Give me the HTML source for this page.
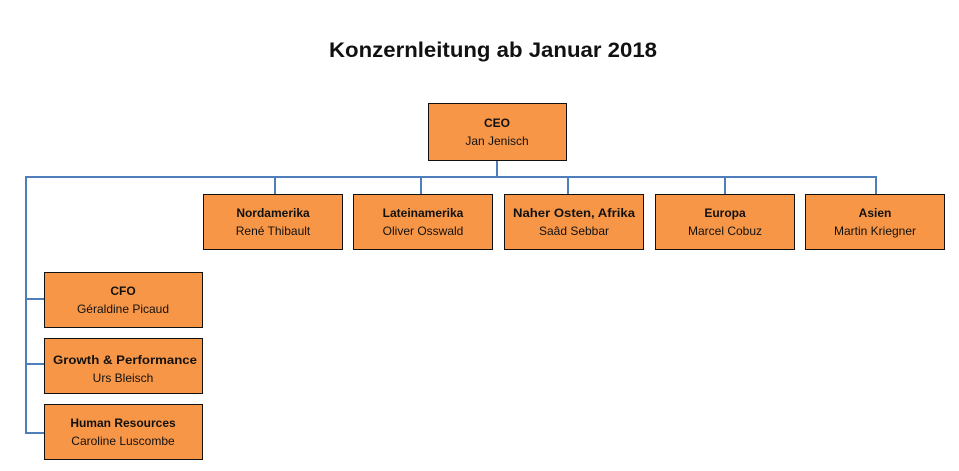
<!DOCTYPE html>
<html><head><meta charset="utf-8"><style>
html,body{margin:0;padding:0;background:#fff;}
svg{display:block;}
text{font-family:"Liberation Sans",sans-serif;font-size:12px;fill:#111;text-anchor:middle;}
.b{font-weight:bold;}
</style></head><body>
<svg width="959" height="471" viewBox="0 0 959 471" xmlns="http://www.w3.org/2000/svg">
<text x="493" y="57" class="b" style="font-size:21px" textLength="328" lengthAdjust="spacingAndGlyphs">Konzernleitung ab Januar 2018</text>
<g stroke="#4F7FBB" stroke-width="2" fill="none">
<line x1="497" y1="160" x2="497" y2="178"/>
<line x1="26" y1="177" x2="877" y2="177"/>
<line x1="26" y1="176" x2="26" y2="434"/>
<line x1="275" y1="177" x2="275" y2="194"/>
<line x1="421" y1="177" x2="421" y2="194"/>
<line x1="568" y1="177" x2="568" y2="194"/>
<line x1="725" y1="177" x2="725" y2="194"/>
<line x1="876" y1="177" x2="876" y2="194"/>
<line x1="26" y1="299" x2="44" y2="299"/>
<line x1="26" y1="364" x2="44" y2="364"/>
<line x1="26" y1="433" x2="44" y2="433"/>
</g>
<g fill="#F79646" stroke="#111" stroke-width="1">
<rect x="428.5" y="103.5" width="138" height="57"/>
<rect x="203.5" y="194.5" width="139" height="55"/>
<rect x="353.5" y="194.5" width="139" height="55"/>
<rect x="504.5" y="194.5" width="139" height="55"/>
<rect x="655.5" y="194.5" width="139" height="55"/>
<rect x="805.5" y="194.5" width="139" height="55"/>
<rect x="44.5" y="272.5" width="158" height="55"/>
<rect x="44.5" y="338.5" width="158" height="55"/>
<rect x="44.5" y="404.5" width="158" height="55"/>
</g>
<text x="497" y="127" class="b">CEO</text><text x="497" y="145">Jan Jenisch</text>
<text x="273" y="217" class="b">Nordamerika</text><text x="273" y="235">René Thibault</text>
<text x="423" y="217" class="b">Lateinamerika</text><text x="423" y="235">Oliver Osswald</text>
<text x="574" y="217" class="b" textLength="122" lengthAdjust="spacingAndGlyphs">Naher Osten, Afrika</text><text x="574" y="235">Saâd Sebbar</text>
<text x="725" y="217" class="b">Europa</text><text x="725" y="235">Marcel Cobuz</text>
<text x="875" y="217" class="b">Asien</text><text x="875" y="235">Martin Kriegner</text>
<text x="123" y="295" class="b">CFO</text><text x="123" y="313">Géraldine Picaud</text>
<text x="125" y="364" class="b" textLength="144" lengthAdjust="spacingAndGlyphs">Growth &amp; Performance</text><text x="123" y="382">Urs Bleisch</text>
<text x="123" y="427" class="b">Human Resources</text><text x="123" y="445">Caroline Luscombe</text>
</svg>
</body></html>
